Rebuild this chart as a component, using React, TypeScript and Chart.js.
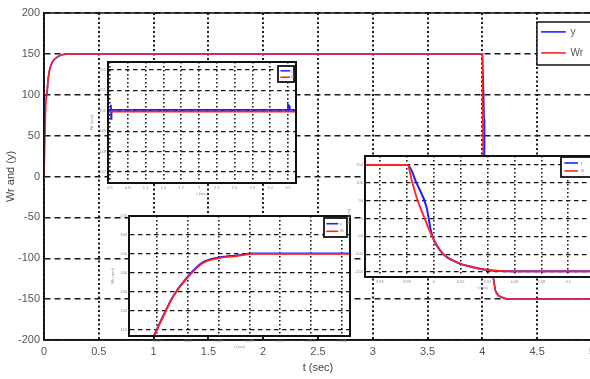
import React, { useEffect, useRef } from "react";
import { Chart, registerables } from "chart.js";

Chart.register(...registerables);

const FONT = "'Liberation Sans', Arial, Helvetica, sans-serif";
const RED = "#ff2020";
const BLUE = "#2020ff";

// ---------- shared ----------
const seriesNames = ["y", "Wr"];
const legendColors = [BLUE, RED];

// ---------- main chart ----------
const mainXTicks = [0, 0.5, 1, 1.5, 2, 2.5, 3, 3.5, 4, 4.5, 5];
const mainXLabels = ["0", "0.5", "1", "1.5", "2", "2.5", "3", "3.5", "4", "4.5", "5"];
const mainYTicks = [-200, -150, -100, -50, 0, 50, 100, 150, 200];
const mainYLabels = ["-200", "-150", "-100", "-50", "0", "50", "100", "150", "200"];
const mainXTitle = "t (sec)";
const mainYTitle = "Wr and (y)";

const mainWrT = [0, 0.008, 0.014, 0.02, 0.027, 0.036, 0.046, 0.056, 0.075, 0.1, 0.13, 0.165, 0.22, 4.0, 4.003, 4.02, 4.05, 4.08, 4.1, 4.12, 4.15, 4.2, 4.25, 5];
const mainWrV = [0, 45, 80, 95, 100, 117, 127, 133, 140, 144, 147, 149, 150, 150, 80, -30, -85, -112, -124, -140, -146, -149, -150, -150];
const mainYT = [0.003, 0.005, 0.012, 0.027, 0.036, 0.046, 0.056, 0.075, 0.1, 0.13, 0.165, 0.22, 4.0, 4.012, 4.016, 4.02, 4.05, 4.08, 4.1, 4.12, 4.15, 4.2, 4.25, 5];
const mainYV = [50, 100, 100, 100, 117, 127, 133, 140, 144, 147, 149, 150, 150, 100, 70, -30, -85, -112, -124, -140, -146, -149, -150, -150];

// ---------- inset 1 (plateau) ----------
const in1XTicks = [0.5, 0.8, 1.1, 1.4, 1.7, 2, 2.3, 2.6, 2.9, 3.2, 3.5];
const in1XLabels = ["0.5", "0.8", "1.1", "1.4", "1.7", "2", "2.3", "2.6", "2.9", "3.2", "3.5"];
const in1YTicks = [147, 148, 149, 150, 151, 152];
const in1YLabels = ["147", "148", "149", "150", "151", "152"];
const in1YT = [0.466, 0.51, 0.515, 0.52, 0.525, 3.49, 3.5, 3.52, 3.53, 3.635];
const in1YV = [150.04, 150.04, 150.3, 149.6, 150.04, 150.04, 150.3, 150.25, 150.04, 150.04];
const in1WrT = [0.466, 3.635];
const in1WrV = [149.96, 149.96];

// ---------- inset 2 (rise) ----------
const in2XTicks = [0.02, 0.04, 0.06, 0.08, 0.1, 0.12, 0.14];
const in2XLabels = ["0.02", "0.04", "0.06", "0.08", "0.1", "0.12", "0.14"];
const in2YTicks = [110, 120, 130, 140, 150, 160, 170];
const in2YLabels = ["110", "120", "130", "140", "150", "160", "170"];
const in2YT = [0.0172, 0.024, 0.0306, 0.0397, 0.05, 0.061, 0.072, 0.0825, 0.1, 0.1452];
const in2YV = [105.4, 117.2, 127.8, 137.8, 145.7, 148.3, 149.3, 150.3, 150.3, 150.3];
const in2WrT = [0.0172, 0.024, 0.0306, 0.0397, 0.05, 0.061, 0.072, 0.0825, 0.1, 0.1452];
const in2WrV = [105, 116.8, 127.4, 137.4, 145.3, 147.9, 148.9, 150, 150, 150];

// ---------- inset 3 (drop) ----------
const in3XTicks = [3.96, 3.98, 4, 4.02, 4.04, 4.06, 4.08, 4.1];
const in3XLabels = ["3.96", "3.98", "4", "4.02", "4.04", "4.06", "4.08", "4.1"];
const in3YTicks = [-150, -100, -50, 0, 50, 100, 150];
const in3YLabels = ["-150", "-100", "-50", "0", "50", "100", "150"];
const in3YT = [3.949, 3.9807, 3.9873, 3.9947, 3.9984, 4.0058, 4.0168, 4.0286, 4.0412, 4.06, 4.1236];
const in3YV = [150, 150, 99, 32, -41, -94, -122, -136, -145, -148, -148];
const in3WrT = [3.949, 3.9807, 3.9836, 3.988, 3.9932, 3.9991, 4.0058, 4.0168, 4.0286, 4.0412, 4.06, 4.1236];
const in3WrV = [150, 150, 108, 52, 1, -52, -94, -122, -136, -145, -148, -148];

const insetXTitle = "t (sec)";
const insetYTitle = "Wr (rpm)";

type Series = { xs: number[]; ys: number[]; color: string; width: number; smooth?: boolean; label: string };
type Legend = { dxRight: number; dy: number; w: number; h: number; size: number; lineW: number; border: number; row1: number; row2: number; x0: number; x1: number; tx: number };
type Axis = { min: number; max: number; ticks: number[]; labels: string[]; title: string };
type Spec = {
  box: { left: number; top: number; width: number; height: number };
  pad: { top: number; right: number; left: number; bottom: number };
  yWidth: number;
  xHeight: number;
  x: Axis;
  y: Axis;
  series: Series[];
  tickSize: number;
  tickColor: string;
  tickPadX: number;
  tickPadY: number;
  titleSize: number;
  titleColor: string;
  titlePadX: number;
  titlePadY: number;
  gridWidthV: number;
  gridWidthH: number;
  dashV: number[];
  dashH: number[];
  gridColor: string;
  frameWidth: number;
  fillArea: boolean;
  legend: Legend;
  textColor: string;
};

const decorPlugin = {
  id: "decor",
  beforeDraw(chart: any, _a: any, o: any) {
    const { ctx, chartArea: a } = chart;
    if (o.fillArea) {
      ctx.save();
      ctx.fillStyle = "#ffffff";
      ctx.fillRect(a.left, a.top, a.right - a.left, a.bottom - a.top);
      ctx.restore();
    }
  },
  afterDatasetsDraw(chart: any, _a: any, o: any) {
    const { ctx, chartArea: a } = chart;
    ctx.save();
    ctx.setLineDash([]);
    ctx.strokeStyle = "#111";
    ctx.lineWidth = o.frameWidth;
    ctx.strokeRect(a.left, a.top, a.right - a.left, a.bottom - a.top);
    const L: Legend = o.legend;
    const lx = a.right - L.dxRight;
    const ly = a.top + L.dy;
    ctx.fillStyle = "#ffffff";
    ctx.fillRect(lx, ly, L.w, L.h);
    ctx.lineWidth = L.border;
    ctx.strokeStyle = "#111";
    ctx.strokeRect(lx, ly, L.w, L.h);
    seriesNames.forEach((name, i) => {
      const yy = ly + L.h * (i === 0 ? L.row1 : L.row2);
      ctx.strokeStyle = legendColors[i];
      ctx.lineWidth = L.lineW;
      ctx.beginPath();
      ctx.moveTo(lx + L.w * L.x0, yy);
      ctx.lineTo(lx + L.w * L.x1, yy);
      ctx.stroke();
      ctx.fillStyle = o.textColor;
      ctx.font = `${L.size}px ${FONT}`;
      ctx.textBaseline = "middle";
      ctx.textAlign = "left";
      ctx.fillText(name, lx + L.w * L.tx, yy);
    });
    ctx.restore();
  },
};

function makeConfig(s: Spec): any {
  const n = s.series.length;
  return {
    type: "line",
    data: {
      datasets: s.series.map((se, i) => ({
        label: se.label,
        data: se.xs.map((x, j) => ({ x, y: se.ys[j] })),
        borderColor: se.color,
        backgroundColor: se.color,
        borderWidth: se.width,
        pointRadius: 0,
        fill: false,
        tension: 0,
        cubicInterpolationMode: se.smooth ? "monotone" : "default",
        order: n - i,
      })),
    },
    options: {
      animation: false,
      responsive: false,
      maintainAspectRatio: false,
      events: [],
      layout: { padding: s.pad },
      plugins: {
        legend: { display: false },
        tooltip: { enabled: false },
        decor: { fillArea: s.fillArea, frameWidth: s.frameWidth, legend: s.legend, textColor: s.textColor },
      },
      scales: {
        x: {
          type: "linear",
          min: s.x.min,
          max: s.x.max,
          afterBuildTicks: (sc: any) => {
            sc.ticks = s.x.ticks.map((v) => ({ value: v }));
          },
          afterFit: (sc: any) => {
            sc.height = s.xHeight;
          },
          ticks: {
            autoSkip: false,
            maxRotation: 0,
            padding: s.tickPadX,
            color: s.tickColor,
            font: { family: FONT, size: s.tickSize },
            callback: (_v: any, i: number) => s.x.labels[i],
          },
          grid: { color: s.gridColor, lineWidth: s.gridWidthV, drawTicks: false },
          border: { display: true, color: "#111", width: s.frameWidth, dash: s.dashV },
          title: {
            display: true,
            text: s.x.title,
            color: s.titleColor,
            font: { family: FONT, size: s.titleSize },
            padding: { top: 0, bottom: s.titlePadX },
          },
        },
        y: {
          type: "linear",
          min: s.y.min,
          max: s.y.max,
          afterBuildTicks: (sc: any) => {
            sc.ticks = s.y.ticks.map((v) => ({ value: v }));
          },
          afterFit: (sc: any) => {
            sc.width = s.yWidth;
          },
          ticks: {
            autoSkip: false,
            padding: s.tickPadY,
            color: s.tickColor,
            font: { family: FONT, size: s.tickSize },
            callback: (_v: any, i: number) => s.y.labels[i],
          },
          grid: { color: s.gridColor, lineWidth: s.gridWidthH, drawTicks: false },
          border: { display: true, color: "#111", width: s.frameWidth, dash: s.dashH },
          title: {
            display: true,
            text: s.y.title,
            color: s.titleColor,
            font: { family: FONT, size: s.titleSize },
            padding: { top: s.titlePadY, bottom: 0 },
          },
        },
      },
    },
    plugins: [decorPlugin],
  };
}

const insetStyle = {
  tickSize: 4,
  tickColor: "#8a8a8a",
  tickPadX: 2,
  tickPadY: 2,
  titleSize: 4,
  titleColor: "#8a8a8a",
  titlePadX: 5,
  titlePadY: 1,
  gridWidthV: 1.6,
  gridWidthH: 1.3,
  dashV: [1.6, 2.4],
  dashH: [4.5, 3.5],
  gridColor: "#151515",
  frameWidth: 2,
  fillArea: true,
  textColor: "#777",
};

const mainSpec: Spec = {
  box: { left: 0, top: 0, width: 600, height: 379 },
  pad: { top: 13, right: 6, left: 0, bottom: 0 },
  yWidth: 44,
  xHeight: 39,
  x: { min: 0, max: 5, ticks: mainXTicks, labels: mainXLabels, title: mainXTitle },
  y: { min: -200, max: 200, ticks: mainYTicks, labels: mainYLabels, title: mainYTitle },
  series: [
    { label: seriesNames[0], xs: mainYT, ys: mainYV, color: BLUE, width: 1.6 },
    { label: seriesNames[1], xs: mainWrT, ys: mainWrV, color: RED, width: 1.6, smooth: true },
  ],
  tickSize: 11,
  tickColor: "#555",
  tickPadX: 5,
  tickPadY: 4,
  titleSize: 11,
  titleColor: "#444",
  titlePadX: 4,
  titlePadY: 4,
  gridWidthV: 2,
  gridWidthH: 1.4,
  dashV: [2, 2.5],
  dashH: [6, 4],
  gridColor: "#1a1a1a",
  frameWidth: 1.5,
  fillArea: false,
  textColor: "#555",
  legend: { dxRight: 55, dy: 9, w: 60, h: 43, size: 10, lineW: 1.6, border: 1.5, row1: 0.23, row2: 0.72, x0: 0.07, x1: 0.48, tx: 0.56 },
};

const inset1Spec: Spec = {
  ...insetStyle,
  box: { left: 88, top: 54, width: 216, height: 147 },
  pad: { top: 8, right: 8, left: 0, bottom: 0 },
  yWidth: 20,
  xHeight: 18,
  x: { min: 0.466, max: 3.635, ticks: in1XTicks, labels: in1XLabels, title: insetXTitle },
  y: { min: 146.46, max: 152.39, ticks: in1YTicks, labels: in1YLabels, title: insetYTitle },
  series: [
    { label: seriesNames[0], xs: in1YT, ys: in1YV, color: BLUE, width: 1.8 },
    { label: seriesNames[1], xs: in1WrT, ys: in1WrV, color: RED, width: 1.8 },
  ],
  legend: { dxRight: 18, dy: 4, w: 16, h: 16, size: 3, lineW: 1.5, border: 1.8, row1: 0.3, row2: 0.7, x0: 0.15, x1: 0.75, tx: 0.8 },
};

const inset2Spec: Spec = {
  ...insetStyle,
  box: { left: 109, top: 208, width: 249, height: 146 },
  pad: { top: 8, right: 8, left: 0, bottom: 0 },
  yWidth: 20,
  xHeight: 18,
  x: { min: 0.002, max: 0.1452, ticks: in2XTicks, labels: in2XLabels, title: insetXTitle },
  y: { min: 106.8, max: 170, ticks: in2YTicks, labels: in2YLabels, title: insetYTitle },
  series: [
    { label: seriesNames[0], xs: in2YT, ys: in2YV, color: BLUE, width: 1.8, smooth: true },
    { label: seriesNames[1], xs: in2WrT, ys: in2WrV, color: RED, width: 1.8, smooth: true },
  ],
  legend: { dxRight: 26, dy: 2, w: 23, h: 19, size: 3, lineW: 1.6, border: 1.8, row1: 0.3, row2: 0.7, x0: 0.1, x1: 0.62, tx: 0.7 },
};

const inset3Spec: Spec = {
  ...insetStyle,
  box: { left: 345, top: 148, width: 263, height: 147 },
  pad: { top: 8, right: 8, left: 0, bottom: 0 },
  yWidth: 20,
  xHeight: 18,
  x: { min: 3.949, max: 4.1236, ticks: in3XTicks, labels: in3XLabels, title: insetXTitle },
  y: { min: -164, max: 175.3, ticks: in3YTicks, labels: in3YLabels, title: insetYTitle },
  series: [
    { label: seriesNames[0], xs: in3YT, ys: in3YV, color: BLUE, width: 2, smooth: true },
    { label: seriesNames[1], xs: in3WrT, ys: in3WrV, color: RED, width: 1.8, smooth: true },
  ],
  legend: { dxRight: 39, dy: 1, w: 34, h: 20, size: 3, lineW: 1.6, border: 1.8, row1: 0.3, row2: 0.7, x0: 0.1, x1: 0.5, tx: 0.58 },
};

function Plot({ spec }: { spec: Spec }) {
  const ref = useRef<HTMLCanvasElement | null>(null);
  useEffect(() => {
    if (!ref.current) return;
    const chart = new Chart(ref.current, makeConfig(spec));
    return () => chart.destroy();
  }, [spec]);
  const b = spec.box;
  return (
    <canvas
      ref={ref}
      width={b.width}
      height={b.height}
      style={{ position: "absolute", left: b.left, top: b.top, width: b.width, height: b.height }}
    />
  );
}

export default function App() {
  return (
    <div
      style={{
        position: "fixed",
        left: 0,
        top: 0,
        width: 590,
        height: 379,
        overflow: "hidden",
        background: "#ffffff",
      }}
    >
      <Plot spec={mainSpec} />
      <Plot spec={inset1Spec} />
      <Plot spec={inset2Spec} />
      <Plot spec={inset3Spec} />
    </div>
  );
}
